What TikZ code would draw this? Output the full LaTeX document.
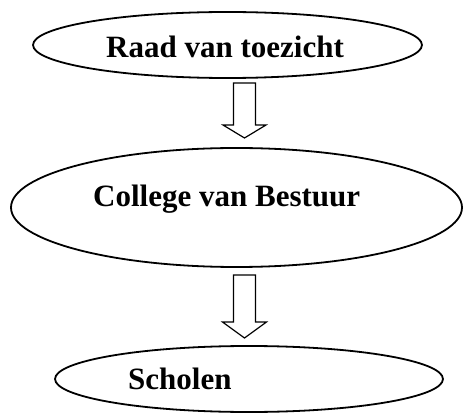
\documentclass[tikz,border=0pt]{standalone}
\usepackage{fontspec}
\setmainfont{Liberation Serif}
\usetikzlibrary{shapes.geometric}
\begin{document}
\begin{tikzpicture}[x=1pt,y=-1pt,
  oval/.style={draw=black, ellipse, line width=1.8pt, inner sep=0pt},
  label text/.style={anchor=base west, inner sep=0pt, font=\bfseries\fontsize{31}{31}\selectfont},
  blockarrow/.style={draw=black, line width=1.2pt, line join=miter, fill=white}]
\useasboundingbox (0,0) rectangle (463,414);

% the three levels
\node[oval, minimum width=389pt, minimum height=66pt] (rvt) at (227.5,45) {};
\node[oval, minimum width=451pt, minimum height=119pt] (cvb) at (236.5,207.5) {};
\node[oval, minimum width=388pt, minimum height=66pt] (sch) at (249,379) {};

\node[label text] (trvt) at (106,58) {Raad van toezicht};
\node[label text] (tcvb) at (93,207) {College van Bestuur};
\node[label text] (tsch) at (128,389) {Scholen};

% hollow arrows between the levels
\coordinate (a1) at (244.5,83);
\coordinate (a2) at (244.5,275);
\draw[blockarrow] (a1) ++(-11,0) -- ++(0,42) -- ++(-10.5,0) -- ++(21.5,13)
  -- ++(21.5,-13) -- ++(-10.5,0) -- ++(0,-42) -- cycle;
\draw[blockarrow] (a2) ++(-11,0) -- ++(0,47) -- ++(-11,0) -- ++(22,16)
  -- ++(22,-16) -- ++(-11,0) -- ++(0,-47) -- cycle;
\end{tikzpicture}
\end{document}
